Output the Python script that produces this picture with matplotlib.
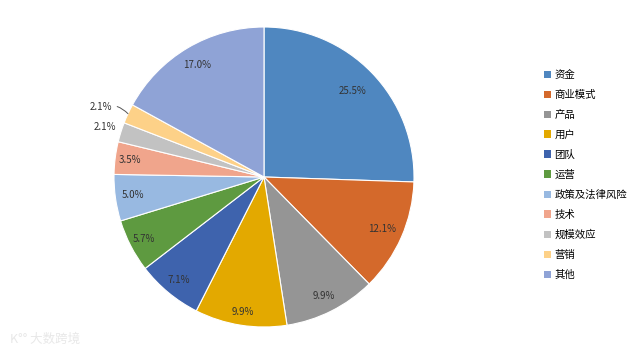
import matplotlib
matplotlib.use("Agg")
import matplotlib.pyplot as plt
import numpy as np
from matplotlib.patches import Patch

plt.rcParams['font.family'] = ['Noto Sans CJK SC', 'DejaVu Sans']

categories = ['资金', '商业模式', '产品', '用户', '团队', '运营', '政策及法律风险', '技术', '规模效应', '营销', '其他']
values = [25.5, 12.1, 9.9, 9.9, 7.1, 5.7, 5.0, 3.5, 2.1, 2.1, 17.0]
colors = ['#4F87C0', '#D4692B', '#959595', '#E3A900', '#3E63AD', '#5E9A40',
          '#98B9E1', '#F0A58C', '#C2C2C2', '#FDD188', '#8FA3D6']

fig = plt.figure(figsize=(6.4, 3.54), dpi=100)
cx, cy, r = 264, 177, 150
ax = fig.add_axes([(cx - r) / 640, (354 - cy - r) / 354, 2 * r / 640, 2 * r / 354])
wedges, _ = ax.pie(values, colors=colors, startangle=90, counterclock=False,
                   wedgeprops=dict(edgecolor='white', linewidth=0.8), radius=1.0)
ax.set_xlim(-1, 1)
ax.set_ylim(-1, 1)
ax.set_aspect('auto')

dists = [0.82, 0.86, 0.89, 0.91, 0.89, 0.9, 0.88, 0.9, 1.11, None, 0.87]
for i, (w, v) in enumerate(zip(wedges, values)):
    ang = np.deg2rad((w.theta1 + w.theta2) / 2)
    lab = f'{v:.1f}%'
    if dists[i] is None:
        x0, y0 = np.cos(ang) * 1.0, np.sin(ang) * 1.0
        ax.annotate(lab, xy=(x0, y0), xytext=(-1.09, 0.47), fontsize=7,
                    ha='center', va='center', color='#333333',
                    arrowprops=dict(arrowstyle='-', color='#555555', lw=0.7,
                                    shrinkA=2, shrinkB=0,
                                    connectionstyle='arc3,rad=-0.3'))
    else:
        d = dists[i]
        ax.text(np.cos(ang) * d, np.sin(ang) * d, lab, fontsize=7,
                ha='center', va='center', color='#333333')

handles = [Patch(facecolor=c, edgecolor='none') for c in colors]
fig.legend(handles, categories, loc='center left', bbox_to_anchor=(540 / 640, 1 - 175 / 354),
           frameon=False, fontsize=7.5, handlelength=0.7, handleheight=0.7,
           handletextpad=0.3, labelspacing=0.95, borderaxespad=0)

fig.text(10 / 640, 1 - 339 / 354, 'K°° 大数跨境', fontsize=9, color='#E8E8E8', va='center', ha='left')

fig.savefig('out.png', dpi=100)
